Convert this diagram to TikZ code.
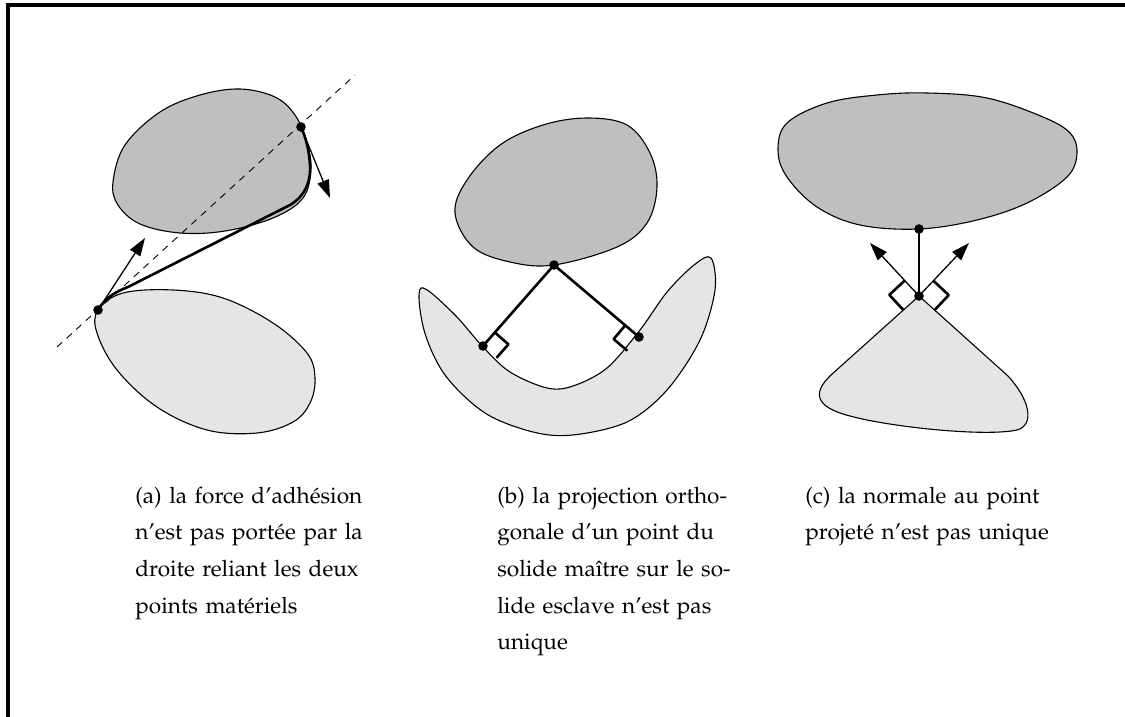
\documentclass[tikz,border=0pt]{standalone}
\usepackage[T1]{fontenc}
\usepackage{mathpazo}
\usetikzlibrary{arrows.meta,calc}
\newlength\capw
\setlength\capw{118pt}
\newlength\capwc
\setlength\capwc{146pt}
\tikzset{
 outline/.style={draw=black, line width=0.55pt},
 darkblob/.style={outline, fill=black!25},
 lightblob/.style={outline, fill=black!10},
 thickline/.style={line width=1.3pt, line join=round},
 arr/.style={line width=0.65pt, -{Triangle[length=9pt,width=6pt]}},
 frameline/.style={line width=2pt},
 dashline/.style={line width=0.45pt, dash pattern=on 3.5pt off 3pt},
 caption/.style={anchor=north west, inner sep=0pt, align=left,
   font=\fontsize{11.3pt}{18.35pt}\selectfont},
}
\begin{document}
\begin{tikzpicture}[x=0.5pt, y=-0.5pt]
\useasboundingbox (0,0) rectangle (1125,717);
% frame (top and left edges)
\coordinate (fTL) at (7.5,5.5);
\coordinate (fTR) at (1130,5.5);
\coordinate (fBL) at (7.5,720);
\draw[frameline] (fBL) -- (fTL) -- (fTR);

% ---------------- panel (a)
\draw[lightblob] plot[smooth cycle, tension=0.6] coordinates {(98,310) (123,293) (173,290) (223,298) (273,323) (307,353) (315,378) (310,403) (293,422) (257,433) (207,430) (157,407) (117,370) (97,333)};
\draw[darkblob] plot[smooth cycle, tension=0.6] coordinates {(113,182) (125,145) (160,112) (200,95) (240,89) (275,97) (295,115) (306,140) (311,168) (303,198) (273,218) (225,231) (180,233) (140,224) (118,205)};
\coordinate (aLow) at (98,310);
\coordinate (aUp) at (301,127);
\coordinate (d1) at (57,347);
\coordinate (d2) at (355,75);
\draw[dashline] (d1) -- (d2);
\draw[thickline] (aLow) .. controls (105,298) and (115,292) .. (128,287) -- (290,205) .. controls (305,196) and (311,182) .. (310,165) .. controls (309,150) and (306,138) .. (aUp);
\coordinate (aLowTip) at (145,238);
\coordinate (aUpTip) at (330,198);
\draw[arr] (aLow) -- (aLowTip);
\draw[arr] (aUp) -- (aUpTip);
\fill (aLow) circle (2.4pt);
\fill (aUp) circle (2.4pt);
\node[caption, text width=\capw] (capa) at (135,477) {\noindent\strut\makebox[\capw][s]{(a) la force d'adh\'esion}\\
\makebox[\capw][s]{n'est pas port\'ee par la}\\
\makebox[\capw][s]{droite reliant les deux}\\
points mat\'eriels};

% ---------------- panel (b)
\draw[darkblob] plot[smooth cycle, tension=0.6] coordinates {(455,213) (467,180) (500,145) (543,125) (587,118) (627,125) (650,153) (657,187) (647,223) (617,247) (554,265) (510,262) (473,247)};
\draw[lightblob] plot[smooth cycle, tension=0.55] coordinates {(421,288) (424,330) (445,375) (485,413) (533,432) (573,435) (627,422) (667,390) (700,340) (715,290) (711,258) (694,265) (667,292) (640,330) (607,368) (573,386) (547,388) (510,372) (483,347) (453,313)};
\coordinate (bT) at (554,265);
\coordinate (bL) at (483,346);
\coordinate (bR) at (639,337);
\draw[thickline] (bL) -- (bT) -- (bR);
\coordinate (bLa) at ($(bL)!9pt!(bT)$);
\coordinate (bLb) at ($(bL)!9pt!-90:(bT)$);
\draw[thickline] (bLa) -- ($(bLa)+(bLb)-(bL)$) -- (bLb);
\coordinate (bRa) at ($(bR)!9pt!(bT)$);
\coordinate (bRb) at ($(bR)!9pt!90:(bT)$);
\draw[thickline] (bRa) -- ($(bRa)+(bRb)-(bR)$) -- (bRb);
\fill (bT) circle (2.4pt);
\fill (bL) circle (2.4pt);
\fill (bR) circle (2.4pt);
\node[caption, text width=\capw] (capb) at (497,477) {\noindent\strut\makebox[\capw][s]{(b) la projection ortho-}\\
\makebox[\capw][s]{gonale d'un point du}\\
\makebox[\capw][s]{solide ma\^{\i}tre sur le so-}\\
\makebox[\capw][s]{lide esclave n'est pas}\\
unique};

% ---------------- panel (c)
\draw[darkblob] plot[smooth cycle, tension=0.6] coordinates {(778,150) (787,123) (827,103) (877,95) (927,93) (987,98) (1043,117) (1070,133) (1077,153) (1067,177) (1027,203) (977,220) (919,229) (860,225) (817,207) (787,177)};
\coordinate (cV) at (919,296);
\coordinate (cQ) at (919,229);
\coordinate (cLe) at (831,375);
\coordinate (cRe) at (1008,376);
\draw[lightblob] (cV) -- (cLe) .. controls (812,393) and (815,407) .. (850,416) .. controls (890,427) and (985,437) .. (1017,430) .. controls (1035,425) and (1030,400) .. (cRe) -- cycle;
\draw[thickline] (cQ) -- (cV);
\coordinate (cLt) at (870,243);
\coordinate (cRt) at (969,243);
\draw[arr] (cV) -- (cLt);
\draw[arr] (cV) -- (cRt);
\coordinate (cLa) at ($(cV)!10.5pt!(cLt)$);
\coordinate (cLb) at ($(cV)!10.5pt!90:(cLt)$);
\draw[thickline] (cLa) -- ($(cLa)+(cLb)-(cV)$) -- (cLb);
\coordinate (cRa) at ($(cV)!10.5pt!(cRt)$);
\coordinate (cRb) at ($(cV)!10.5pt!-90:(cRt)$);
\draw[thickline] (cRa) -- ($(cRa)+(cRb)-(cV)$) -- (cRb);
\fill (cQ) circle (2.4pt);
\fill (cV) circle (2.4pt);
\node[caption, text width=\capwc] (capc) at (805,477) {\noindent\strut\makebox[\capwc][s]{(c) la normale au point}\\
projet\'e n'est pas unique};
\end{tikzpicture}
\end{document}
